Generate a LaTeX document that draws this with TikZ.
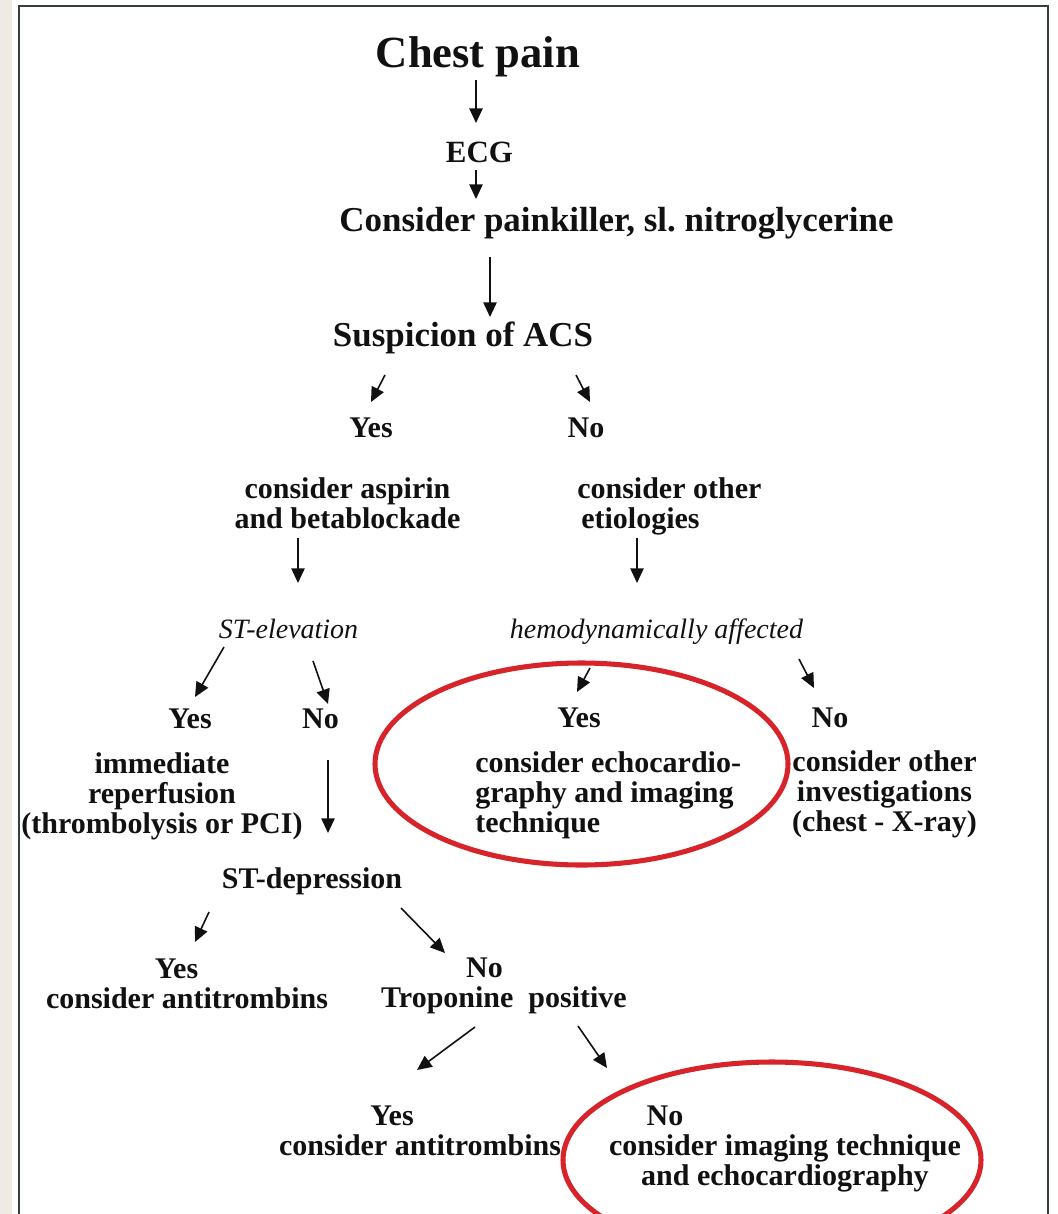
\documentclass[tikz,border=0pt]{standalone}
\usepackage{fontspec}
\setmainfont{Liberation Serif}
\usetikzlibrary{arrows.meta,calc}
\definecolor{framecol}{RGB}{55,62,62}
\definecolor{beige}{RGB}{238,235,228}
\definecolor{hl}{RGB}{214,36,42}
\definecolor{ink}{RGB}{17,17,17}
\frenchspacing
\tikzset{
  lbl/.style={inner sep=0pt, anchor=base, text=ink, font=\bfseries\fontsize{22.5}{22.5}\selectfont},
  bigtitle/.style={lbl, font=\bfseries\fontsize{33.4}{36}\selectfont},
  toplbl/.style={lbl, font=\bfseries\fontsize{26.2}{28}\selectfont},
  ecglbl/.style={lbl, font=\bfseries\fontsize{23.2}{24}\selectfont},
  itlbl/.style={lbl, font=\itshape\fontsize{21}{21}\selectfont},
  blk/.style={lbl, text width=300pt, align=flush center},
  blkl/.style={lbl, anchor=base west, text width=300pt, align=flush left},
  arr/.style={draw=ink, line width=1.2pt, -{Triangle[length=11pt,width=10pt]}},
  hilite/.style={draw=hl, line width=3.8pt}
}
\begin{document}
\begin{tikzpicture}[x=0.75pt,y=-0.75pt]
\useasboundingbox (0,0) rectangle (1057,1214);
\fill[beige] (0,0) rectangle (11.5,1214);
\draw[framecol, line width=1.9pt] (19,1220) -- (19,6) -- (1048,6) -- (1048,1220);

% highlight ellipses
\begin{scope}
\clip (0,0) rectangle (1057,1214);
\draw[hilite] (581.5,764) ellipse [x radius=206.5, y radius=101];
\draw[hilite] (772,1160) ellipse [x radius=209, y radius=98];
\end{scope}

% nodes
\node[bigtitle] (chest) at (478,67) {Chest pain};
\node[ecglbl] (ecg) at (479.5,162) {ECG};
\node[toplbl] (pain) at (616.5,231) {Consider painkiller, sl. nitroglycerine};
\node[toplbl] (susp) at (463,346) {Suspicion of ACS};
\node[lbl] (yes1) at (371,437) {Yes};
\node[lbl] (no1) at (586,437) {No};
\node[blk] (aspirin) at (347.5,498) {consider aspirin\\and betablockade};
\node[blkl] (other1) at (577,498) {consider other\\\hspace*{3pt}etiologies};
\node[itlbl] (stelev) at (288.5,638) {ST-elevation};
\node[itlbl] (hemo) at (656.5,638) {hemodynamically affected};
\node[lbl] (yes2) at (190,728) {Yes};
\node[lbl] (no2) at (320.5,728) {No};
\node[lbl] (yes3) at (579,727) {Yes};
\node[lbl] (no3) at (830,727) {No};
\node[blk] (immed) at (162,773) {immediate\\reperfusion\\(thrombolysis or PCI)};
\node[blkl] (echo) at (475,772) {consider echocardio-\\graphy and imaging\\technique};
\node[blk] (othinv) at (884.5,771) {consider other\\investigations\\(chest - X-ray)};
\node[lbl] (stdep) at (312,888) {ST-depression};
\node[lbl] (yes4) at (176.5,978) {Yes};
\node[lbl] (antitr1) at (187,1008) {consider antitrombins};
\node[lbl] (no4) at (484.5,977) {No};
\node[lbl] (trop) at (504,1007) {Troponine\ \ positive};
\node[lbl] (yes5) at (392,1125) {Yes};
\node[lbl] (antitr2) at (420,1155) {consider antitrombins};
\node[lbl] (no5) at (665,1125) {No};
\node[blk] (imaging) at (785,1155) {consider imaging technique\\and echocardiography};

% connectors
\draw[arr] ($(chest.base)+(-2,13)$) -- ($(ecg.base)+(-3.5,-39)$);
\draw[arr] ($(ecg.base)+(-3.5,8)$) -- ($(pain.base)+(-140.5,-32)$);
\draw[arr] ($(pain.base)+(-126.5,26)$) -- ($(susp.base)+(27,-29)$);
\draw[arr] ($(susp.base)+(-78,29)$) -- ($(yes1.base)+(0,-35)$);
\draw[arr] ($(susp.base)+(113,29)$) -- ($(no1.base)+(4,-35)$);
\draw[arr] ($(aspirin.base)+(-49.5,40)$) -- ($(stelev.base)+(9.5,-55)$);
\draw[arr] ($(other1.base west)+(60,40)$) -- ($(hemo.base)+(-19.5,-55)$);
\draw[arr] ($(stelev.base)+(-64.5,9)$) -- ($(yes2.base)+(5,-31)$);
\draw[arr] ($(stelev.base)+(24.5,23)$) -- ($(no2.base)+(7.5,-24)$);
\draw[arr] ($(hemo.base)+(-66.5,30)$) -- ($(yes3.base)+(-2,-35)$);
\draw[arr] ($(hemo.base)+(142.5,21)$) -- ($(no3.base)+(-16,-39)$);
\draw[arr] ($(no2.base)+(7.5,32)$) -- ($(stdep.base)+(16,-55)$);
\draw[arr] ($(stdep.base)+(-103,24)$) -- ($(yes4.base)+(18.5,-36)$);
\draw[arr] ($(stdep.base)+(89,20)$) -- ($(no4.base)+(-39.5,-24)$);
\draw[arr] ($(trop.base)+(-29,20)$) -- ($(yes5.base)+(25,-55)$);
\draw[arr] ($(trop.base)+(74,19)$) -- ($(no5.base)+(-58,-57)$);
\end{tikzpicture}
\end{document}
